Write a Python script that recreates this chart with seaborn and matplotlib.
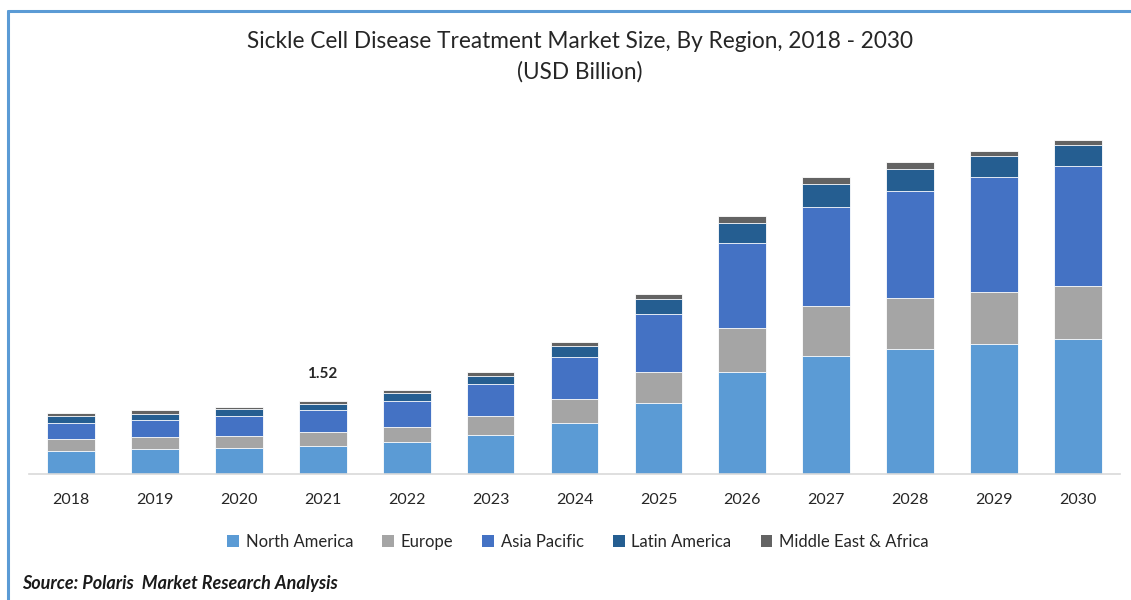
import matplotlib
matplotlib.use("Agg")
import matplotlib.pyplot as plt
import seaborn as sns
import pandas as pd
import numpy as np
from matplotlib.lines import Line2D
from matplotlib.patches import Patch

years = ["2018", "2019", "2020", "2021", "2022", "2023", "2024",
         "2025", "2026", "2027", "2028", "2029", "2030"]
north_america = [0.48, 0.52, 0.54, 0.59, 0.68, 0.82, 1.06, 1.49, 2.13, 2.48, 2.62, 2.73, 2.82]
europe = [0.25, 0.25, 0.25, 0.29, 0.30, 0.40, 0.52, 0.65, 0.93, 1.03, 1.06, 1.09, 1.12]
asia_pacific = [0.34, 0.36, 0.43, 0.45, 0.54, 0.67, 0.87, 1.21, 1.77, 2.08, 2.25, 2.39, 2.50]
latin_america = [0.14, 0.12, 0.14, 0.14, 0.17, 0.17, 0.22, 0.31, 0.42, 0.48, 0.45, 0.45, 0.45]
mea = [0.06, 0.08, 0.05, 0.05, 0.06, 0.08, 0.09, 0.10, 0.15, 0.14, 0.15, 0.11, 0.10]

regions = ["North America", "Europe", "Asia Pacific", "Latin America", "Middle East & Africa"]
colors = ["#5B9BD5", "#A5A5A5", "#4472C4", "#255E91", "#636363"]
label_year = "2021"
label_text = "1.52"

sns.set_theme(style="white")
plt.rcParams["font.family"] = ["Lato", "DejaVu Sans"]

df = pd.DataFrame({"Year": years, regions[0]: north_america, regions[1]: europe,
                   regions[2]: asia_pacific, regions[3]: latin_america, regions[4]: mea})
cum = df[regions].cumsum(axis=1)

fig = plt.figure(figsize=(11.31, 6.0), dpi=100)
ax = fig.add_axes([29 / 1131, 0.21, (1120 - 29) / 1131, 0.59])

for reg, col in reversed(list(zip(regions, colors))):
    sns.barplot(x=df["Year"], y=cum[reg], color=col, width=0.57, ax=ax,
                edgecolor="white", linewidth=0.6, saturation=1)

ax.set_xlim(-0.5, len(years) - 0.5)
ax.set_ylim(0, 7.41)
ax.set_xlabel("")
ax.set_ylabel("")
ax.set_yticks([])
for s in ["top", "right", "left"]:
    ax.spines[s].set_visible(False)
ax.spines["bottom"].set_color("#D9D9D9")
ax.spines["bottom"].set_linewidth(1.2)
ax.tick_params(axis="x", length=0, pad=13.5, labelsize=11.5, labelcolor="#262626")

idx = years.index(label_year)
ax.annotate(label_text, (idx, cum[regions[-1]].iloc[idx]), xytext=(0, 20),
            textcoords="offset points", ha="center", va="center",
            fontsize=11, fontweight="bold", color="#262626")

fig.text(0.513, 1 - 42 / 600, "Sickle Cell Disease Treatment Market Size, By Region, 2018 - 2030",
         ha="center", va="center", fontsize=16.3, color="#262626")
fig.text(0.513, 1 - 72 / 600, "(USD Billion)", ha="center", va="center",
         fontsize=16.3, color="#262626")

handles = [Patch(facecolor=c, edgecolor="none") for c in colors]
fig.legend(handles, regions, loc="center", bbox_to_anchor=(0.511, 1 - 542 / 600),
           ncol=5, frameon=False, handlelength=0.7, handleheight=0.7,
           handletextpad=0.4, columnspacing=1.75, fontsize=12, labelcolor="#262626")

fig.text(22 / 1131, 1 - 584 / 600, "Source: Polaris  Market Research Analysis",
         ha="left", va="center", fontsize=13, fontweight="bold", fontstyle="italic",
         color="#1a1a1a")

fig.add_artist(Line2D([8 / 1131, 1], [1 - 11 / 600, 1 - 11 / 600],
                      transform=fig.transFigure, color="#5B9BD5", linewidth=2.2))
fig.add_artist(Line2D([8 / 1131, 8 / 1131], [0, 1 - 11 / 600],
                      transform=fig.transFigure, color="#5B9BD5", linewidth=2.2))

fig.savefig("out.png", dpi=100)
